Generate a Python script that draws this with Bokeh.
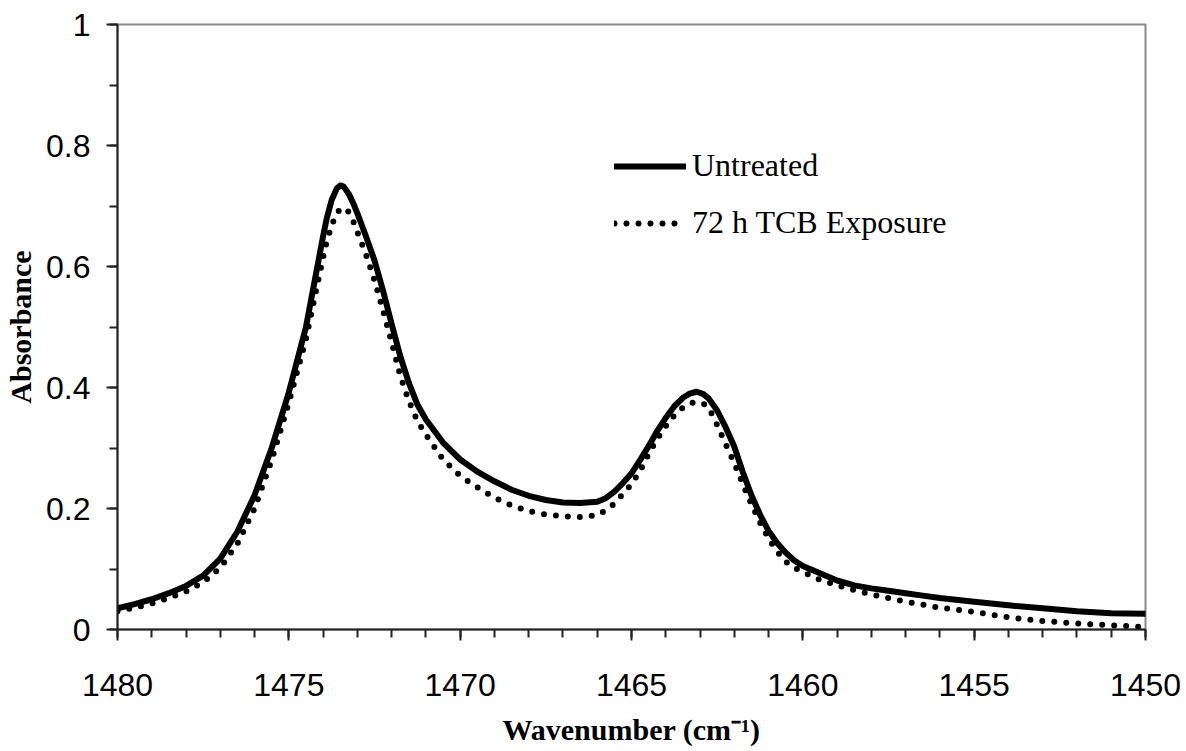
from bokeh.plotting import figure
from bokeh.models import (Range1d, SingleIntervalTicker, CustomJSTickFormatter,
                          Legend, LegendItem, ColumnDataSource)
from bokeh.embed import file_html
from bokeh.resources import INLINE

# Wavenumber (cm-1)
wavenumber = [1480, 1479.5, 1479, 1478.5, 1478, 1477.5, 1477, 1476.5, 1476, 1475.5,
              1475, 1474.5, 1474.25, 1474, 1473.9, 1473.75, 1473.6, 1473.5, 1473.4, 1473.25,
              1473.1, 1473, 1472.75, 1472.5, 1472.25, 1472, 1471.75, 1471.5, 1471.25, 1471,
              1470.5, 1470, 1469.5, 1469, 1468.5, 1468, 1467.5, 1467, 1466.5, 1466,
              1465.75, 1465.5, 1465.25, 1465, 1464.75, 1464.5, 1464.25, 1464, 1463.75, 1463.5,
              1463.3, 1463.1, 1462.9, 1462.75, 1462.5, 1462.25, 1462, 1461.75, 1461.5, 1461.25,
              1461, 1460.75, 1460.5, 1460.25, 1460, 1459.5, 1459, 1458.5, 1458, 1457.5,
              1457, 1456.5, 1456, 1455, 1454, 1453, 1452, 1451, 1450]

abs_untreated = [0.035, 0.042, 0.050, 0.060, 0.072, 0.089, 0.117, 0.162, 0.222, 0.300,
                 0.392, 0.500, 0.575, 0.650, 0.678, 0.710, 0.729, 0.734, 0.732, 0.720,
                 0.702, 0.688, 0.650, 0.610, 0.560, 0.505, 0.452, 0.408, 0.372, 0.347,
                 0.309, 0.281, 0.261, 0.245, 0.231, 0.221, 0.214, 0.210, 0.209, 0.211,
                 0.217, 0.228, 0.242, 0.258, 0.280, 0.303, 0.328, 0.350, 0.369, 0.383,
                 0.390, 0.393, 0.389, 0.382, 0.362, 0.334, 0.302, 0.260, 0.222, 0.190,
                 0.163, 0.143, 0.127, 0.114, 0.105, 0.093, 0.081, 0.073, 0.068, 0.064,
                 0.060, 0.056, 0.052, 0.046, 0.040, 0.035, 0.030, 0.027, 0.026]

abs_tcb = [0.030, 0.036, 0.043, 0.052, 0.063, 0.078, 0.102, 0.142, 0.200, 0.280,
           0.375, 0.480, 0.548, 0.615, 0.640, 0.668, 0.688, 0.695, 0.697, 0.690,
           0.672, 0.657, 0.620, 0.577, 0.527, 0.475, 0.420, 0.378, 0.345, 0.322,
           0.281, 0.254, 0.235, 0.218, 0.205, 0.196, 0.190, 0.187, 0.186, 0.189,
           0.197, 0.208, 0.224, 0.240, 0.262, 0.290, 0.315, 0.336, 0.354, 0.367,
           0.374, 0.376, 0.373, 0.367, 0.338, 0.306, 0.275, 0.240, 0.207, 0.177,
           0.150, 0.129, 0.112, 0.102, 0.095, 0.082, 0.073, 0.065, 0.058, 0.052,
           0.046, 0.041, 0.036, 0.029, 0.020, 0.014, 0.010, 0.007, 0.004]

series_names = ["Untreated", "72 h TCB Exposure"]

assert len(wavenumber) == len(abs_untreated) == len(abs_tcb)

p = figure(frame_width=1028, frame_height=605, output_backend="svg",
           toolbar_location=None,
           x_range=Range1d(1480, 1450), y_range=Range1d(0, 1),
           min_border_left=117, min_border_right=41, min_border_top=24,
           min_border_bottom=100, background_fill_color="white",
           border_fill_color="white")

p.xgrid.visible = False
p.ygrid.visible = False
p.outline_line_color = "#8a8a8a"
p.outline_line_width = 2

src_u = ColumnDataSource(dict(x=wavenumber, y=abs_untreated))
src_t = ColumnDataSource(dict(x=wavenumber, y=abs_tcb))

r_u = p.line("x", "y", source=src_u, line_color="black", line_width=6,
             line_join="round", line_cap="round")
r_t = p.line("x", "y", source=src_t, line_color="black", line_width=6,
             line_dash="0 12", line_cap="round")

# axes
for ax in (p.xaxis[0], p.yaxis[0]):
    ax.axis_line_color = "#222222"
    ax.axis_line_width = 2
    ax.major_tick_line_color = "#222222"
    ax.minor_tick_line_color = "#222222"
    ax.major_tick_line_width = 2
    ax.minor_tick_line_width = 2
    ax.major_tick_in = 0
    ax.minor_tick_in = 0
    ax.major_tick_out = 11
    ax.minor_tick_out = 8
    ax.major_label_text_font = "Liberation Sans"
    ax.major_label_text_font_size = "32px"
    ax.major_label_text_color = "black"
    ax.axis_label_text_font = "Liberation Serif"
    ax.axis_label_text_font_style = "bold"
    ax.axis_label_text_font_size = "30px"
    ax.axis_label_text_color = "black"

p.xaxis[0].ticker = SingleIntervalTicker(interval=5, num_minor_ticks=5)
p.yaxis[0].ticker = SingleIntervalTicker(interval=0.2, num_minor_ticks=2)
p.yaxis[0].formatter = CustomJSTickFormatter(
    code="return String(Math.round(tick*10)/10);")
p.xaxis[0].axis_label = "Wavenumber (cm\u207b\u00b9)"
p.yaxis[0].axis_label = "Absorbance"
p.xaxis[0].major_label_standoff = 33
p.xaxis[0].axis_label_standoff = 14
p.yaxis[0].major_label_standoff = 16
p.yaxis[0].axis_label_standoff = 6

legend = Legend(items=[LegendItem(label=series_names[0], renderers=[r_u]),
                       LegendItem(label=series_names[1], renderers=[r_t])],
                location=(497, 388), orientation="vertical",
                glyph_width=72, glyph_height=30, label_height=30,
                label_standoff=6, spacing=20, padding=0, margin=0,
                border_line_alpha=0, background_fill_alpha=0,
                label_text_font="Liberation Serif", label_text_font_size="32px",
                label_text_color="black")
p.add_layout(legend)

open("out.html", "w").write(file_html(p, INLINE))
